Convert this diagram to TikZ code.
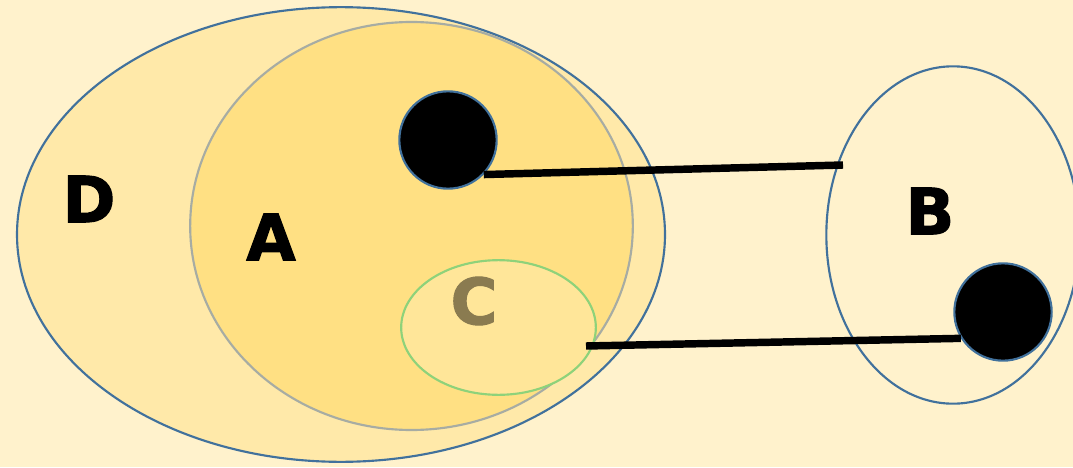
\documentclass[tikz,border=0pt]{standalone}
\usepackage{fontspec}
\setmainfont{DejaVu Sans}[BoldFeatures={FakeBold=1.6}]
\usetikzlibrary{shapes.geometric}
\definecolor{bgcream}{HTML}{FFF2CC}
\definecolor{setD}{HTML}{FFE9A9}
\definecolor{setA}{HTML}{FFE083}
\definecolor{setC}{HTML}{FFE699}
\definecolor{edgeblue}{HTML}{41719C}
\definecolor{edgegray}{HTML}{A7ACA3}
\definecolor{edgegreen}{HTML}{8ED27A}
\definecolor{labelC}{HTML}{8A7B50}

\begin{document}
\begin{tikzpicture}[
  x=0.75pt, y=-0.75pt,
  set/.style={ellipse, draw=edgeblue, line width=1.6pt, inner sep=0pt},
  dot/.style={circle, fill=black, draw=edgeblue, line width=1.6pt,
    minimum size=73pt, inner sep=0pt},
  lbl/.style={font=\fontsize{48}{48}\selectfont\bfseries},
  link/.style={line width=5.6pt, black}
]
% background
\fill[bgcream] (0,0) rectangle (1073,467);
\useasboundingbox (0,0) rectangle (1073,467);

% sets
\node[set, fill=setD, minimum width=486pt, minimum height=341pt] (D) at (341,234.5) {};
\node[set, fill=setA, draw=edgegray, minimum width=332pt, minimum height=306pt] (A) at (411.5,226) {};
\node[set, fill=setC, draw=edgegreen, minimum width=146pt, minimum height=101pt] (C) at (498.5,327.5) {};
\node[set, fill=bgcream, minimum width=190pt, minimum height=253pt] (B) at (953,235) {};

% labels
\node[lbl] (labD) at (89,199) {D};
\node[lbl] (labA) at (271,237) {A};
\node[lbl, text=labelC] (labC) at (474,301) {C};
\node[lbl] (labB) at (930,211) {B};

% links
\coordinate (endB) at (843,165);
\coordinate (startC) at (586,346);
\node[dot] (dot1) at (448,140) {};
\node[dot] (dot2) at (1003,312) {};
\draw[link] (dot1.-44) -- (endB);
\draw[link] (startC) -- (dot2.212);
\end{tikzpicture}
\end{document}
